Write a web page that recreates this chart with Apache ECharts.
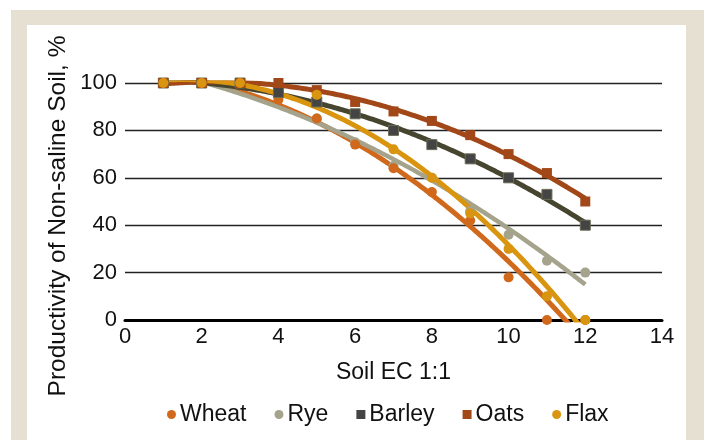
<!DOCTYPE html>
<html><head><meta charset="utf-8">
<script src="https://cdn.jsdelivr.net/npm/echarts@6/dist/echarts.min.js"></script>
<style>
html,body{margin:0;padding:0;background:#fff;}
#frame{position:absolute;left:11px;top:10px;width:693px;height:430px;background:#e6e0d3;}
#inner{position:absolute;left:27px;top:25px;width:659px;height:415px;background:#fff;}
#chart{position:absolute;left:0;top:0;width:707px;height:440px;}
</style></head>
<body>
<div id="frame"></div><div id="inner"></div>
<div id="chart"></div>
<script>
// Soil EC 1:1 values
const ec = [1,2,3,4,5,6,7,8,9,10,11,12];
// Productivity of non-saline soil, % (null = no point)
const wheat  = [100,100,100,93,85,74,64,54,42,18,0,0];
const rye    = [100,100,100,94,85,75,65,60,46,36,25,20];
const barley = [100,100,100,96,92,87,80,74,68,60,53,40];
const oats   = [100,100,100,100,97,92,88,84,78,70,62,50];
const flax   = [100,100,100,null,95,null,72,60,45,30,10,0];
const seriesNames = ['Wheat','Rye','Barley','Oats','Flax'];
const xTicks = [0,2,4,6,8,10,12,14];
const yTicks = [0,20,40,60,80,100];
const xTitle = 'Soil EC 1:1';
const yTitle = 'Productivity of Non-saline Soil, %';

const colors = {Wheat:'#d0691b',Rye:'#a5a38c',Barley:'#444444',Oats:'#a24818',Flax:'#d9950f'};
const lineColors = {Wheat:'#d0691b',Rye:'#a5a38c',Barley:'#46452f',Oats:'#a24818',Flax:'#d9950f'};
const symbols = {Wheat:'circle',Rye:'circle',Barley:'rect',Oats:'rect',Flax:'circle'};
const dataMap = {Wheat:wheat,Rye:rye,Barley:barley,Oats:oats,Flax:flax};

function pairs(vals){ const out=[]; ec.forEach((x,i)=>{ if(vals[i]!==null) out.push([x,vals[i]]); }); return out; }
// least-squares 2nd order polynomial trendline of the read values (as in the source chart)
function quadFit(pts){
  let n=pts.length,sx=0,sx2=0,sx3=0,sx4=0,sy=0,sxy=0,sx2y=0;
  pts.forEach(([x,y])=>{sx+=x;sx2+=x*x;sx3+=x*x*x;sx4+=x*x*x*x;sy+=y;sxy+=x*y;sx2y+=x*x*y;});
  const A=[[n,sx,sx2,sy],[sx,sx2,sx3,sxy],[sx2,sx3,sx4,sx2y]];
  for(let i=0;i<3;i++){ for(let k=i+1;k<3;k++){ const f=A[k][i]/A[i][i]; for(let j=i;j<4;j++) A[k][j]-=f*A[i][j]; } }
  const c=[0,0,0];
  for(let i=2;i>=0;i--){ let s=A[i][3]; for(let j=i+1;j<3;j++) s-=A[i][j]*c[j]; c[i]=s/A[i][i]; }
  return c;
}
function trend(pts){
  const c=quadFit(pts); const x0=pts[0][0], x1=pts[pts.length-1][0]; const out=[];
  for(let k=0;k<=200;k++){ const x=x0+(x1-x0)*k/200; out.push([x,c[0]+c[1]*x+c[2]*x*x]); }
  return out;
}
const FONT = '"Liberation Sans", Arial, Helvetica, sans-serif';
const series = [];
seriesNames.forEach((nm)=>{
  series.push({name:nm+'_trend',type:'line',data:trend(pairs(dataMap[nm])),showSymbol:false,symbol:'none',
    lineStyle:{color:lineColors[nm],width:nm==='Rye'?4.5:5},clip:true,z:2,silent:true});
});
const markerOrder = ['Rye','Wheat','Barley','Oats','Flax'];
markerOrder.forEach((nm,i)=>{
  series.push({name:nm,type:'scatter',data:pairs(dataMap[nm]),symbol:symbols[nm],symbolSize:10,
    itemStyle:{color:colors[nm],borderColor:nm==='Barley'?'#6b6b55':colors[nm],borderWidth:nm==='Barley'?1:0,opacity:1},z:3+i,clip:false});
});
const chart = echarts.init(document.getElementById('chart'),null,{renderer:'canvas'});
chart.setOption({
  animation:false,
  backgroundColor:'transparent',
  color:seriesNames.map(n=>colors[n]),
  grid:{left:125,right:45,top:83,bottom:120,containLabel:false},
  legend:{data:seriesNames.map(n=>({name:n,icon:symbols[n],itemStyle:{color:colors[n],borderWidth:0}})),top:398,left:162,itemWidth:9,itemHeight:9,itemGap:28,
    textStyle:{fontFamily:FONT,fontSize:23,color:'#111',padding:[0,0,0,-1]}},
  graphic:[{type:'text',x:58,y:216,rotation:Math.PI/2,
    style:{text:yTitle,fontFamily:FONT,fontSize:24.5,fill:'#111',align:'center',verticalAlign:'middle'}}],
  xAxis:{type:'value',min:0,max:14,interval:2,
    name:xTitle,nameLocation:'middle',nameGap:41,nameTextStyle:{fontFamily:FONT,fontSize:23,color:'#111'},
    axisLine:{show:true,onZero:false,lineStyle:{color:'#000',width:3}},axisTick:{show:false},
    axisLabel:{fontFamily:FONT,fontSize:22,color:'#111',margin:6,formatter:v=>xTicks.includes(v)?String(v):''},splitLine:{show:false}},
  yAxis:{type:'value',min:0,max:100,interval:20,
    axisLine:{show:false},axisTick:{show:false},
    axisLabel:{fontFamily:FONT,fontSize:22,color:'#111',margin:8,formatter:v=>yTicks.includes(v)?String(v):''},
    splitLine:{show:true,lineStyle:{color:'#222',width:1.3}}},
  series:series
});
</script></body></html>
